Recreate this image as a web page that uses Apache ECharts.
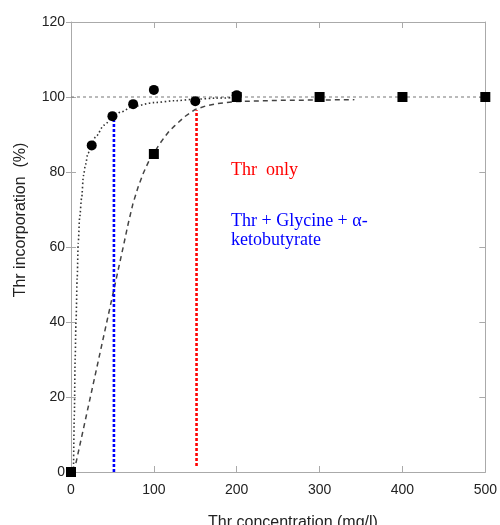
<!DOCTYPE html>
<html>
<head>
<meta charset="utf-8">
<script src="https://cdn.jsdelivr.net/npm/echarts@6.0.0/dist/echarts.min.js"></script>
<style>
html,body{margin:0;padding:0;background:#fff;}
#chart{width:500px;height:525px;}
</style>
</head>
<body>
<div id="chart"></div>
<script>
// Measured points: circles (Thr + Glycine + alpha-ketobutyrate)
const circleX = [25, 50, 75, 100, 150, 200];
const circleY = [87.1, 94.9, 98.1, 101.9, 98.9, 100.5];
// Measured points: squares (Thr only)
const squareX = [0, 100, 200, 300, 400, 500];
const squareY = [0, 84.8, 100, 100, 100, 100];
// Dotted fitted curve
const dotFitX = [3, 4, 5, 6, 7.5, 8.7, 10.5, 12.8, 15, 17.5, 20.5, 25, 30, 40, 50, 60, 75, 100, 125, 150, 175, 200];
const dotFitY = [0, 15, 30, 40, 52, 61, 68, 73, 79, 82, 85, 87.5, 89.5, 92.5, 94.6, 96, 97.5, 98.5, 99, 99.4, 99.7, 99.85];
// Dashed fitted curve
const dashFitX = [3.6, 63, 69, 74.7, 81, 87.5, 93.5, 100, 106, 112.5, 118.5, 125, 137.5, 150, 162.5, 175, 200, 250, 300, 342];
const dashFitY = [0, 60, 66.2, 71.5, 76, 79.8, 82.7, 85, 87.2, 89.2, 90.9, 92.3, 94.8, 96.7, 97.6, 98.2, 98.8, 99.1, 99.2, 99.3];
// Reference line at 100 %
const refX = [0, 500];
const refY = [100, 100];
// Vertical markers
const blueX = [51.8, 51.8];
const blueY = [0, 94.2];
const redX = [151.5, 151.5];
const redY = [1.6, 96.5];
// Axis ticks
const xTicks = [0, 100, 200, 300, 400, 500];
const yTicks = [0, 20, 40, 60, 80, 100, 120];
// Texts
const xTitle = 'Thr concentration (mg/l)';
const yTitle = 'Thr incorporation  (%)';
const redText = 'Thr  only';
const blueText1 = 'Thr + Glycine + \u03b1-';
const blueText2 = 'ketobutyrate';

const zip = (xs, ys) => xs.map((x, i) => [x, ys[i]]);

const chart = echarts.init(document.getElementById('chart'), null, {renderer: 'canvas'});
const axisColor = '#aaaaaa';
const labelFont = {fontFamily: '"Liberation Sans", Arial, sans-serif', fontSize: 14, color: '#222'};
const xMin = xTicks[0], xMax = xTicks[xTicks.length - 1], xInt = xTicks[1] - xTicks[0];
const yMin = yTicks[0], yMax = yTicks[yTicks.length - 1], yInt = yTicks[1] - yTicks[0];

const baseX = {type: 'value', min: xMin, max: xMax, interval: xInt, splitLine: {show: false},
  axisLine: {show: true, onZero: false, lineStyle: {color: axisColor, width: 1}}};
const baseY = {type: 'value', min: yMin, max: yMax, interval: yInt, splitLine: {show: false},
  axisLine: {show: true, onZero: false, lineStyle: {color: axisColor, width: 1}}};
const serif = '18px "Liberation Serif", "Times New Roman", serif';

chart.setOption({
  animation: false,
  backgroundColor: '#fff',
  grid: {left: 71, right: 11, top: 22, bottom: 53, containLabel: false},
  xAxis: [
    Object.assign({}, baseX, {position: 'bottom',
      axisTick: {show: true, inside: true, length: 6, lineStyle: {color: axisColor}},
      axisLabel: Object.assign({margin: 11}, labelFont)}),
    Object.assign({}, baseX, {position: 'top',
      axisTick: {show: true, inside: true, length: 6, lineStyle: {color: axisColor}},
      axisLabel: {show: false}})
  ],
  yAxis: [
    Object.assign({}, baseY, {position: 'left',
      axisTick: {show: true, inside: true, length: 5, lineStyle: {color: axisColor}},
      axisLabel: Object.assign({margin: 6}, labelFont)}),
    Object.assign({}, baseY, {position: 'left', offset: 0,
      axisLine: {show: false},
      axisTick: {show: true, inside: false, length: 5, lineStyle: {color: axisColor}},
      axisLabel: {show: false}}),
    Object.assign({}, baseY, {position: 'right',
      axisTick: {show: true, inside: true, length: 6, lineStyle: {color: axisColor}},
      axisLabel: {show: false}})
  ],
  graphic: [
    {type: 'text', x: 231, y: 170, style: {text: redText, fill: '#ff0000',
      font: serif, align: 'left', verticalAlign: 'middle', textAlign: 'left', textVerticalAlign: 'middle'}},
    {type: 'text', x: 231, y: 221, style: {text: blueText1, fill: '#0000ff',
      font: serif, align: 'left', verticalAlign: 'middle', textAlign: 'left', textVerticalAlign: 'middle'}},
    {type: 'text', x: 231, y: 240, style: {text: blueText2, fill: '#0000ff',
      font: serif, align: 'left', verticalAlign: 'middle', textAlign: 'left', textVerticalAlign: 'middle'}},
    {type: 'text', x: 21, y: 220, rotation: Math.PI / 2, style: {text: yTitle, fill: '#222',
      font: '16px "Liberation Sans", Arial, sans-serif', align: 'center', verticalAlign: 'middle', textAlign: 'center', textVerticalAlign: 'middle'}},
    {type: 'text', x: 293, y: 523, style: {text: xTitle, fill: '#222',
      font: '16px "Liberation Sans", Arial, sans-serif', align: 'center', verticalAlign: 'middle', textAlign: 'center', textVerticalAlign: 'middle'}}
  ],
  series: [
    {name: 'ref100', type: 'line', data: zip(refX, refY), symbol: 'none', silent: true,
      lineStyle: {color: '#777', width: 1, type: [3, 3]}, z: 1},
    {name: 'dotFit', type: 'line', data: zip(dotFitX, dotFitY), symbol: 'none', smooth: 0.3, smoothMonotone: 'x',
      lineStyle: {color: '#333', width: 1.6, type: [1.5, 2.5]}, z: 2},
    {name: 'dashFit', type: 'line', data: zip(dashFitX, dashFitY), symbol: 'none', smooth: false,
      lineStyle: {color: '#444', width: 1.5, type: [5, 4]}, z: 2},
    {name: 'blueLine', type: 'line', data: zip(blueX, blueY), symbol: 'none',
      lineStyle: {color: '#0000ff', width: 2.6, type: [3, 2]}, z: 3},
    {name: 'redLine', type: 'line', data: zip(redX, redY), symbol: 'none',
      lineStyle: {color: '#ff0000', width: 2.6, type: [3, 2]}, z: 3},
    {name: 'circles', type: 'scatter', data: zip(circleX, circleY), symbol: 'circle', symbolSize: 10,
      itemStyle: {color: '#000', opacity: 1}, z: 5},
    {name: 'squares', type: 'scatter', data: zip(squareX, squareY), symbol: 'rect', symbolSize: 10,
      itemStyle: {color: '#000', opacity: 1}, z: 4}
  ]
});
</script>
</body>
</html>
